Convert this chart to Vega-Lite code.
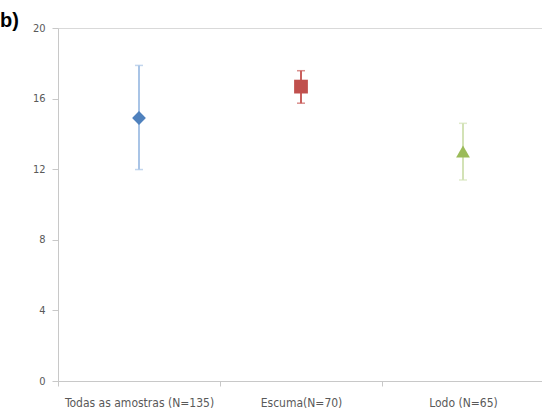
{
  "$schema": "https://vega.github.io/schema/vega-lite/v6.json",
  "width": 486,
  "height": 353,
  "autosize": {"type": "none"},
  "padding": {"left": 58, "top": 28, "right": 0, "bottom": 39},
  "background": "white",
  "title": {
    "text": "b)",
    "anchor": "start",
    "frame": "group",
    "dx": -58,
    "dy": 25,
    "offset": 0,
    "baseline": "alphabetic",
    "fontSize": 20,
    "fontWeight": "bold",
    "font": "Liberation Sans",
    "color": "black"
  },
  "data": {
    "values": [
      {"grupo": "Todas as amostras (N=135)", "media": 14.9, "lo": 11.98, "hi": 17.88},
      {"grupo": "Escuma(N=70)", "media": 16.68, "lo": 15.74, "hi": 17.58},
      {"grupo": "Lodo (N=65)", "media": 13.0, "lo": 11.39, "hi": 14.6}
    ]
  },
  "config": {
    "view": {"stroke": "#d9d9d9", "strokeWidth": 1},
    "axis": {
      "domainColor": "#c8c8c8",
      "tickColor": "#c8c8c8",
      "labelColor": "#595959",
      "labelFont": "'Liberation Sans Narrow', 'DejaVu Sans Condensed', 'Open Sans', sans-serif",
      "labelFontSize": 11,
      "grid": false,
      "title": null
    }
  },
  "encoding": {
    "x": {
      "field": "grupo",
      "type": "nominal",
      "sort": null,
      "scale": {"type": "band", "paddingInner": 0, "paddingOuter": 0},
      "axis": {"labelAngle": 0, "tickBand": "extent", "tickSize": 5, "labelPadding": 11, "labelFontSize": 12}
    }
  },
  "layer": [
    {
      "mark": {"type": "rule", "strokeWidth": 2},
      "encoding": {
        "y": {"field": "lo", "type": "quantitative", "scale": {"domain": [0, 20], "nice": false},
              "axis": {"values": [0, 4, 8, 12, 16, 20], "tickSize": 6, "labelPadding": 7}},
        "y2": {"field": "hi"},
        "color": {"field": "grupo", "type": "nominal", "sort": null, "legend": null,
                  "scale": {"domain": ["Todas as amostras (N=135)", "Escuma(N=70)", "Lodo (N=65)"], "range": ["#a9c4e6", "#c9605d", "#d3e2b6"]}}
      }
    },
    {
      "mark": {"type": "tick", "orient": "horizontal", "size": 8, "thickness": 1.5},
      "encoding": {
        "y": {"field": "lo", "type": "quantitative"},
        "color": {"field": "grupo", "type": "nominal", "sort": null, "legend": null,
                  "scale": {"domain": ["Todas as amostras (N=135)", "Escuma(N=70)", "Lodo (N=65)"], "range": ["#a9c4e6", "#c9605d", "#d3e2b6"]}}
      }
    },
    {
      "mark": {"type": "tick", "orient": "horizontal", "size": 8, "thickness": 1.5},
      "encoding": {
        "y": {"field": "hi", "type": "quantitative"},
        "color": {"field": "grupo", "type": "nominal", "sort": null, "legend": null,
                  "scale": {"domain": ["Todas as amostras (N=135)", "Escuma(N=70)", "Lodo (N=65)"], "range": ["#a9c4e6", "#c9605d", "#d3e2b6"]}}
      }
    },
    {
      "mark": {"type": "point", "filled": true, "opacity": 1, "size": 190},
      "encoding": {
        "y": {"field": "media", "type": "quantitative"},
        "shape": {"field": "grupo", "type": "nominal", "sort": null, "legend": null,
                  "scale": {"domain": ["Todas as amostras (N=135)", "Escuma(N=70)", "Lodo (N=65)"], "range": ["diamond", "square", "triangle-up"]}},
        "color": {"field": "grupo", "type": "nominal", "sort": null, "legend": null,
                  "scale": {"domain": ["Todas as amostras (N=135)", "Escuma(N=70)", "Lodo (N=65)"], "range": ["#4f81bd", "#c0504d", "#9bbb59"]}}
      }
    }
  ],
  "resolve": {"scale": {"color": "independent"}}
}
